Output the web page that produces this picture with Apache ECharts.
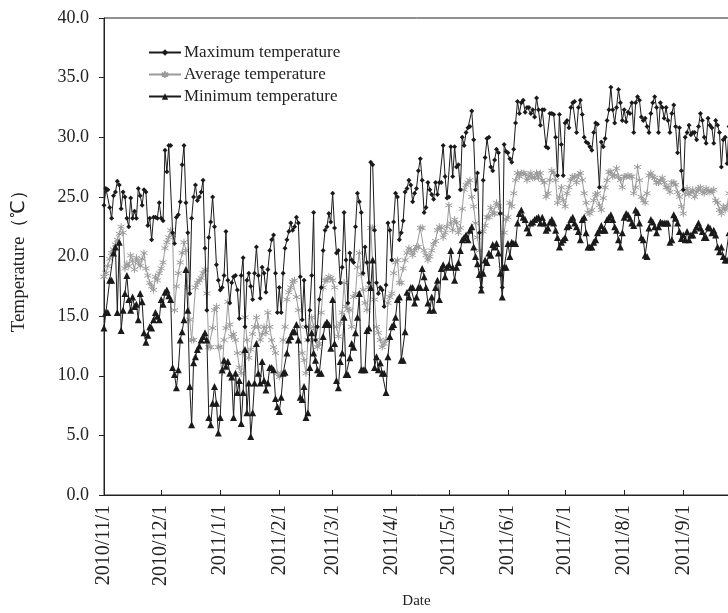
<!DOCTYPE html>
<html>
<head>
<meta charset="utf-8">
<script src="https://cdn.jsdelivr.net/npm/echarts@6/dist/echarts.min.js"></script>
<style>
html,body{margin:0;padding:0;background:#fff;}
#chart{width:728px;height:613px;}
</style>
</head>
<body>
<div id="chart"></div>
<script>
// First day of the series and number of daily records (2010/11/1 .. 2011/9/25)
const startDay = [2010, 11, 1];
const dayCount = 329;

const yTicks = [0, 5, 10, 15, 20, 25, 30, 35, 40];

const maxTemp = [
24.3,25.7,25.6,24.1,23.2,25.1,25.4,26.3,26.0,24.0,25.4,25.0,23.2,22.5,24.9,23.2,23.8,23.2,25.7,25.1,
24.3,25.6,25.4,22.6,23.2,21.4,23.3,23.3,23.2,24.5,23.2,23.0,28.9,27.1,29.3,29.3,22.0,
21.1,23.3,23.5,24.6,27.7,29.3,24.5,22.0,16.9,23.2,25.0,26.0,24.7,25.0,25.4,26.4,20.7,15.5,21.6,22.9,
25.0,22.5,19.3,18.0,17.2,17.4,18.4,22.1,18.0,16.1,17.8,18.3,18.4,17.2,14.8,18.4,19.9,14.1,18.0,18.6,17.5,
16.4,18.6,20.8,18.4,16.5,19.1,18.6,17.0,18.9,20.5,21.4,21.8,18.6,15.3,17.4,15.3,18.6,20.7,21.4,22.1,
22.8,22.2,22.5,23.3,22.8,18.3,14.7,18.0,14.1,13.0,15.5,18.4,23.7,13.0,14.1,16.4,17.4,20.5,22.2,
22.5,23.6,22.9,25.3,22.4,20.3,20.5,17.8,19.1,23.7,19.7,16.1,20.3,19.7,19.5,22.5,25.3,24.6,23.7,18.6,
20.8,19.5,17.8,27.9,27.7,22.2,17.8,16.9,17.4,17.2,15.8,17.6,22.8,22.2,19.7,22.9,25.3,25.0,21.4,22.0,23.0,25.4,
25.7,26.4,26.0,24.6,25.3,25.7,27.2,28.2,26.4,23.7,24.1,26.2,25.6,25.2,24.8,26.2,25.2,26.2,26.2,29.3,
26.7,24.9,25.0,29.2,26.7,29.2,27.5,27.7,25.6,
30.0,29.3,30.4,30.8,30.9,32.2,29.8,25.6,27.0,22.0,17.4,26.4,28.3,29.9,30.0,27.5,27.2,28.1,29.0,28.7,
23.6,17.4,29.4,28.8,28.7,28.2,27.9,29.0,31.2,33.0,32.0,32.9,33.1,32.1,32.5,32.5,32.0,32.3,31.7,33.3,
32.3,31.0,32.3,32.3,29.2,29.1,32.0,
32.0,31.9,30.0,26.8,31.9,29.4,26.8,31.2,31.4,30.8,32.5,32.9,33.0,30.4,32.5,33.1,31.9,30.0,29.6,29.5,
29.2,28.9,30.4,31.2,31.1,25.8,29.6,29.2,29.9,31.4,32.3,34.2,32.3,31.2,32.5,34.0,32.9,31.4,32.3,31.3,
32.1,32.0,32.9,30.4,32.9,33.4,33.1,31.7,31.4,31.6,30.9,30.4,32.0,32.9,33.4,32.5,30.4,32.9,32.5,31.6,
32.5,31.4,30.4,32.0,32.7,30.9,28.7,30.8,27.2,25.6,30.0,30.4,31.0,30.2,30.4,30.4,29.8,30.9,32.0,31.4,
30.0,29.5,31.6,31.0,30.8,29.5,31.4,31.0,30.4,27.5,29.8,30.0,27.8,30.9
];

const avgTemp = [
18.3,18.6,19.2,19.8,20.3,20.6,21.0,21.4,21.9,22.5,22.0,19.0,19.4,19.2,20.1,19.6,18.9,19.9,19.5,19.2,
19.8,20.3,19.0,18.4,17.8,17.5,17.2,18.3,18.0,18.6,19.0,19.5,20.7,21.2,21.6,22.2,21.8,
15.5,17.5,18.6,19.5,20.3,21.2,20.5,17.4,14.7,13.0,13.0,17.4,17.8,18.0,18.2,18.6,18.9,16.9,12.4,12.4,
14.0,15.5,15.8,12.4,12.4,10.3,13.0,14.0,16.2,14.3,13.3,13.5,13.0,11.9,10.7,10.2,11.9,14.9,13.0,11.5,
12.2,13.5,14.1,14.9,14.1,13.0,13.5,14.1,13.6,15.3,14.1,13.0,12.4,11.9,10.2,9.9,10.2,13.0,14.1,16.4,
17.0,17.4,17.9,18.0,16.6,15.5,14.1,11.9,11.3,10.2,13.0,14.0,14.9,14.1,13.0,12.4,12.7,15.3,17.4,18.0,
18.0,18.3,18.2,18.0,17.4,14.1,13.3,14.4,15.3,17.8,15.8,15.6,15.5,14.1,16.6,16.9,19.1,20.3,18.5,17.2,
16.1,15.5,17.4,22.4,22.4,16.4,14.1,13.6,13.0,12.4,12.7,13.0,16.1,16.6,16.9,18.6,19.5,19.7,17.8,17.8,19.0,19.7,
20.3,20.7,20.5,20.1,20.5,20.8,20.8,22.4,22.4,20.5,20.1,19.7,20.0,20.5,21.0,21.3,22.2,22.5,22.4,21.6,
22.0,22.5,24.3,22.8,22.2,23.1,22.8,22.0,22.4,24.0,25.6,26.0,26.2,26.4,25.0,24.2,22.8,21.6,20.5,
18.8,22.1,22.6,23.3,23.3,24.1,23.6,23.6,24.5,24.2,23.6,19.0,22.0,23.1,23.3,24.5,24.2,25.3,26.4,27.0,
26.7,27.0,27.0,26.9,26.4,26.7,27.0,26.6,26.6,27.0,26.6,27.0,26.4,26.2,25.0,25.3,26.4,
27.2,27.0,26.4,24.5,25.0,25.8,24.7,24.2,25.3,25.8,26.4,26.7,26.7,26.2,26.8,27.0,26.4,25.3,24.5,23.7,
23.6,23.9,24.7,25.2,25.3,24.3,23.9,24.9,25.8,26.4,27.1,27.1,26.7,26.8,27.4,26.7,26.4,25.8,26.7,26.7,
26.8,26.7,26.7,25.3,25.8,27.5,26.4,25.0,24.7,24.5,25.3,26.8,27.0,26.7,26.6,26.2,26.2,26.4,26.6,26.2,
25.8,25.8,25.4,26.2,26.2,26.0,25.4,25.0,24.2,23.6,25.3,25.7,25.2,25.4,25.6,25.0,25.4,25.7,25.8,25.4,
25.3,25.7,25.5,25.4,25.5,25.6,24.7,24.5,23.9,23.6,24.2,23.9,24.2,25.3
];

const minTemp = [
14.0,15.3,15.3,18.0,18.0,20.3,20.8,15.3,21.2,13.8,15.5,16.9,18.4,16.4,15.5,16.6,15.8,16.0,14.7,16.9,
16.2,13.6,12.8,13.4,14.1,14.0,14.7,15.3,15.0,14.7,16.4,16.0,17.0,17.2,16.7,16.4,10.7,
10.1,9.0,10.5,13.0,13.7,14.7,18.9,15.5,9.1,5.9,11.1,11.6,12.2,12.5,13.0,13.3,13.6,13.0,6.5,5.9,
7.7,9.1,7.7,5.2,6.5,10.5,11.3,10.8,11.2,10.2,9.9,6.5,10.2,8.6,9.6,6.0,8.6,12.2,6.9,9.4,
4.9,6.9,9.4,12.7,10.2,9.4,11.2,9.6,8.8,9.4,10.7,10.7,10.5,8.1,7.4,7.0,8.2,10.2,10.3,11.9,
13.0,13.3,13.7,13.7,14.3,13.0,8.2,8.0,9.1,6.5,6.9,10.7,13.6,11.9,11.3,10.5,10.2,10.2,13.3,14.3,
14.5,14.3,12.3,16.4,12.7,9.6,9.0,11.2,11.9,14.9,10.1,10.1,11.5,12.7,12.4,13.6,14.9,16.9,10.5,10.5,
10.5,13.8,14.0,17.4,19.7,10.7,11.6,10.5,11.1,10.2,10.2,8.6,11.6,13.3,14.1,14.3,14.9,16.4,16.6,11.3,11.3,13.7,
17.0,16.6,17.4,17.4,16.1,16.6,17.4,17.4,19.0,18.3,17.4,16.1,15.5,16.6,15.5,17.4,18.0,16.4,19.0,19.3,
18.3,19.1,19.3,20.5,19.1,18.0,19.1,19.5,20.5,21.4,21.6,21.8,21.4,22.2,22.5,20.8,20.0,19.4,18.5,
17.2,18.6,19.7,19.5,20.3,20.1,21.0,20.8,21.1,20.3,18.6,16.6,19.1,19.1,21.1,20.0,21.2,21.1,21.1,22.8,
23.6,23.9,23.3,23.1,22.4,22.0,22.8,22.9,23.1,23.2,23.3,22.8,23.3,22.8,22.2,22.4,22.9,
23.1,22.8,22.2,21.6,20.8,21.2,21.4,21.6,22.5,22.6,23.1,23.3,22.8,22.5,22.1,21.4,23.1,23.3,22.0,20.8,
20.8,20.8,21.2,21.4,22.0,22.2,22.6,22.2,22.2,23.1,23.3,23.5,23.1,22.5,22.2,21.4,20.8,22.0,23.3,23.6,
23.5,23.2,22.8,22.6,23.9,23.7,22.8,21.6,21.4,20.1,20.0,22.4,23.1,22.9,22.5,22.0,22.5,22.9,22.8,22.8,
22.8,22.8,21.2,21.4,23.5,23.2,22.8,22.1,21.5,21.8,21.4,22.1,21.4,21.8,21.8,22.2,22.5,22.8,22.4,22.1,
21.6,21.6,22.5,22.4,22.0,22.2,21.8,20.8,20.4,20.8,20.0,19.7,19.7,22.0
];

const seriesNames = ['Maximum temperature', 'Average temperature', 'Minimum temperature'];

// build date categories
const dates = [];
const t0 = Date.UTC(startDay[0], startDay[1] - 1, startDay[2]);
for (let i = 0; i < dayCount; i++) {
  const dt = new Date(t0 + i * 86400000);
  dates.push(dt.getUTCFullYear() + '/' + (dt.getUTCMonth() + 1) + '/' + dt.getUTCDate());
}
const isMonthStart = (idx, val) => String(val).split('/')[2] === '1';

const serif = '"Liberation Serif", "Times New Roman", serif';
const chart = echarts.init(document.getElementById('chart'), null, {renderer: 'canvas'});
chart.setOption({
  backgroundColor: '#fff',
  animation: false,
  textStyle: {fontFamily: serif},
  grid: {left: 104, right: -1, top: 18, bottom: 118, show: true, borderColor: '#222', borderWidth: 1,
         backgroundColor: 'transparent', containLabel: false, outerBoundsMode: 'none'},
  legend: {
    data: seriesNames,
    orient: 'vertical',
    left: 143, top: 39,
    itemWidth: 32, itemHeight: 8, itemGap: 5,
    textStyle: {fontFamily: serif, fontSize: 17, lineHeight: 17, color: '#222', padding: [0, 0, 0, -2]}
  },
  xAxis: {
    type: 'category',
    data: dates,
    boundaryGap: false,
    name: 'Date',
    nameLocation: 'middle',
    nameGap: 94,
    nameTextStyle: {fontFamily: serif, fontSize: 15, color: '#222'},
    axisLine: {lineStyle: {color: '#222', width: 1}},
    axisTick: {show: true, inside: true, length: 5, interval: isMonthStart, lineStyle: {color: '#222'}},
    axisLabel: {interval: isMonthStart, rotate: 90, margin: 10, fontFamily: serif, fontSize: 20, color: '#222'},
    splitLine: {show: false}
  },
  yAxis: {
    type: 'value',
    min: yTicks[0], max: yTicks[yTicks.length - 1], interval: 5,
    name: 'Temperature（℃）',
    nameLocation: 'middle',
    nameGap: 75,
    nameRotate: 90,
    nameTextStyle: {fontFamily: serif, fontSize: 19, color: '#222'},
    axisLine: {show: true, lineStyle: {color: '#222', width: 1}},
    axisTick: {show: true, inside: false, length: 5, lineStyle: {color: '#222'}},
    axisLabel: {margin: 15, fontFamily: serif, fontSize: 18, color: '#222', formatter: v => v.toFixed(1)},
    splitLine: {show: false}
  },
  series: [
    {
      name: seriesNames[1], type: 'line', data: avgTemp, z: 2,
      showAllSymbol: true,
      symbol: 'path://M5,0L5,10M0.67,2.5L9.33,7.5M9.33,2.5L0.67,7.5',
      symbolSize: 7,
      lineStyle: {color: '#9a9a9a', width: 1},
      itemStyle: {color: '#9a9a9a', borderColor: '#9a9a9a', borderWidth: 1}
    },
    {
      name: seriesNames[0], type: 'line', data: maxTemp, z: 3,
      showAllSymbol: true,
      symbol: 'diamond', symbolSize: 5,
      lineStyle: {color: '#1a1a1a', width: 1},
      itemStyle: {color: '#1a1a1a'}
    },
    {
      name: seriesNames[2], type: 'line', data: minTemp, z: 4,
      showAllSymbol: true,
      symbol: 'triangle', symbolSize: 7,
      lineStyle: {color: '#1a1a1a', width: 1},
      itemStyle: {color: '#1a1a1a'}
    }
  ]
});
</script>
</body>
</html>
